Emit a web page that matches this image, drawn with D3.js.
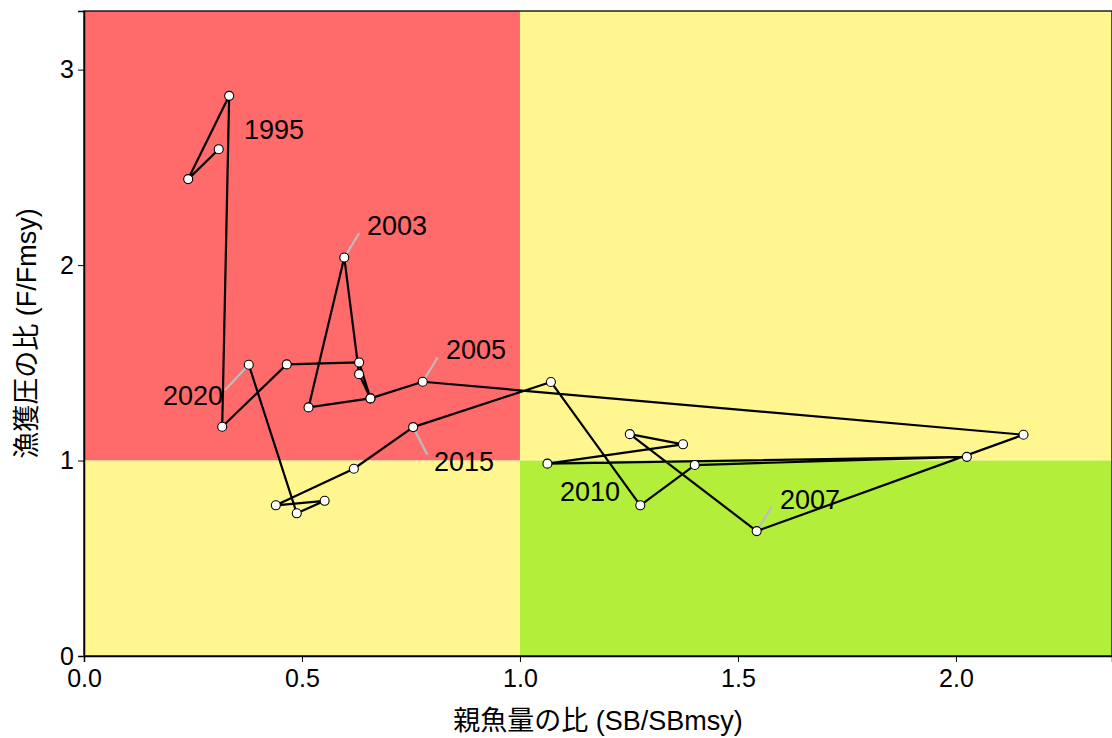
<!DOCTYPE html>
<html>
<head>
<meta charset="utf-8">
<script src="https://cdn.jsdelivr.net/npm/d3@7"></script>
<style>
  html, body { margin: 0; padding: 0; background: #fff; }
  svg { display: block; font-family: "Liberation Sans", Arial, "Noto Sans CJK JP", sans-serif; }
  .axis text { font-size: 25px; fill: #000; }
  .axis path, .axis line { stroke: #000; }
</style>
</head>
<body>
<div id="chart"></div>
<script>
// trajectory, in drawing order (SB/SBmsy, F/Fmsy)
const sbRatio = [0.309, 0.239, 0.333, 0.317, 0.465, 0.631, 0.657, 0.631, 0.597, 0.515,
  0.657, 0.777, 2.155, 1.543, 1.252, 1.374, 1.063, 2.025, 1.401, 1.276,
  1.071, 0.755, 0.619, 0.440, 0.552, 0.488, 0.378];
const fRatio = [2.593, 2.440, 2.866, 1.173, 1.492, 1.502, 1.318, 1.442, 2.039, 1.272,
  1.318, 1.403, 1.132, 0.639, 1.135, 1.083, 0.984, 1.019, 0.977, 0.771,
  1.402, 1.171, 0.958, 0.771, 0.794, 0.730, 1.490];

// year labels and which point they belong to
const labelText = ['1995', '2003', '2005', '2007', '2010', '2015', '2020'];
const labelPoint = [0, 8, 11, 13, 16, 21, 26];

const xTicks = [0, 0.5, 1, 1.5, 2];
const yTicks = [0, 1, 2, 3];

const xTitle = '親魚量の比 (SB/SBmsy)';
const yTitle = '漁獲圧の比 (F/Fmsy)';

const width = 1112;
const height = 738;
const margin = { top: 11, right: 0, bottom: 82, left: 84 };

const svg = d3.select('#chart')
  .append('svg')
  .attr('width', width)
  .attr('height', height);

const xScale = d3.scaleLinear()
  .domain([0, 2.358])
  .range([margin.left, width - margin.right]);
const yScale = d3.scaleLinear()
  .domain([0, 3.3])
  .range([height - margin.bottom, margin.top]);

const [x0, x1] = xScale.domain();
const [y0, y1] = yScale.domain();

// kobe quadrants
const zones = [
  { xa: x0, xb: 1, ya: 1, yb: y1, color: '#ff6a6a' },
  { xa: 1, xb: x1, ya: 1, yb: y1, color: '#fff68f' },
  { xa: x0, xb: 1, ya: y0, yb: 1, color: '#fff68f' },
  { xa: 1, xb: x1, ya: y0, yb: 1, color: '#b3ee3a' },
];
svg.append('g').selectAll('rect').data(zones).join('rect')
  .attr('x', (d) => xScale(d.xa))
  .attr('y', (d) => yScale(d.yb))
  .attr('width', (d) => xScale(d.xb) - xScale(d.xa))
  .attr('height', (d) => yScale(d.ya) - yScale(d.yb))
  .attr('fill', (d) => d.color);

const points = sbRatio.map((s, i) => ({ sb: s, f: fRatio[i] }));

// label segments + text (placed like ggrepel did)
const labelOffset = [
  [46, 0, false], [19, -31, true], [19, -31, true], [19, -31, true],
  [-2, 8, false], [18, 35, true], [-30, 32, true],
];
const labels = labelText.map((t, i) => {
  const p = points[labelPoint[i]];
  return { text: t, p, dx: labelOffset[i][0], dy: labelOffset[i][1], seg: labelOffset[i][2] };
});

const line = d3.line()
  .x((d) => xScale(d.sb))
  .y((d) => yScale(d.f));

const segs = svg.append('g');
labels.filter((d) => d.seg).forEach((d) => {
  const px = xScale(d.p.sb), py = yScale(d.p.f);
  const len = Math.hypot(d.dx, d.dy);
  const k = (len - 4) / len;
  segs.append('line')
    .attr('x1', px).attr('y1', py)
    .attr('x2', px + d.dx * 0.88 * k).attr('y2', py + d.dy * 0.88 * k)
    .attr('stroke', '#bdbdbd')
    .attr('stroke-width', 2.2);
});

svg.append('path')
  .datum(points)
  .attr('d', line)
  .attr('fill', 'none')
  .attr('stroke', '#000')
  .attr('stroke-width', 2.2)
  .attr('stroke-linejoin', 'round');

svg.append('g').selectAll('circle').data(points).join('circle')
  .attr('cx', (d) => xScale(d.sb))
  .attr('cy', (d) => yScale(d.f))
  .attr('r', 4.5)
  .attr('fill', '#fff')
  .attr('stroke', '#000')
  .attr('stroke-width', 1.1);

// text centre for each label
const textPos = [
  [274, 130], [397, 226], [476, 350], [810, 500], [590, 492], [464, 462], [193, 396],
];
svg.append('g').selectAll('text').data(labels).join('text')
  .attr('x', (d, i) => textPos[i][0])
  .attr('y', (d, i) => textPos[i][1])
  .attr('text-anchor', 'middle')
  .attr('dominant-baseline', 'central')
  .attr('font-size', 27)
  .attr('fill', '#000')
  .text((d) => d.text);

// panel border
svg.append('rect')
  .attr('x', xScale(x0))
  .attr('y', yScale(y1))
  .attr('width', xScale(x1) - xScale(x0))
  .attr('height', yScale(y0) - yScale(y1))
  .attr('fill', 'none')
  .attr('stroke', '#000')
  .attr('stroke-width', 1.3);

svg.append('g')
  .attr('class', 'axis')
  .attr('transform', `translate(0, ${yScale(y0)})`)
  .call(d3.axisBottom(xScale).tickValues(xTicks).tickFormat(d3.format('.1f')).tickSize(6).tickPadding(7))
  .call((g) => g.select('.domain').attr('stroke-width', 1.5));

svg.append('g')
  .attr('class', 'axis')
  .attr('transform', `translate(${xScale(x0)}, 0)`)
  .call(d3.axisLeft(yScale).tickValues(yTicks).tickFormat(d3.format('d')).tickSize(6).tickPadding(4))
  .call((g) => g.select('.domain').attr('stroke-width', 1.5));

svg.append('text')
  .attr('x', (xScale(x0) + xScale(x1)) / 2)
  .attr('y', 730)
  .attr('text-anchor', 'middle')
  .attr('font-size', 27)
  .text(xTitle);

svg.append('text')
  .attr('transform', `translate(36, ${(yScale(y0) + yScale(y1)) / 2}) rotate(-90)`)
  .attr('text-anchor', 'middle')
  .attr('font-size', 27)
  .text(yTitle);
</script>
</body>
</html>
